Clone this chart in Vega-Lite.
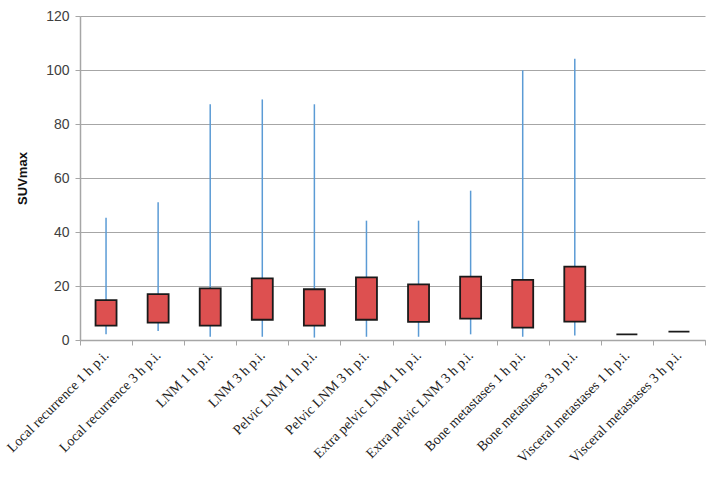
{
  "$schema": "https://vega.github.io/schema/vega-lite/v6.json",
  "autosize": {"type": "none"},
  "width": 625,
  "height": 324,
  "padding": {"left": 80, "top": 16, "right": 10, "bottom": 141},
  "background": "white",
  "data": {
    "values": [
      {"group": "Local recurrence 1 h p.i.", "min": 2.1, "q1": 5.3, "q3": 14.8, "max": 45.3},
      {"group": "Local recurrence 3 h p.i.", "min": 3.3, "q1": 6.4, "q3": 17.0, "max": 51.0},
      {"group": "LNM 1 h p.i.", "min": 1.2, "q1": 5.3, "q3": 19.1, "max": 87.3},
      {"group": "LNM 3 h p.i.", "min": 1.2, "q1": 7.5, "q3": 22.8, "max": 89.1},
      {"group": "Pelvic LNM 1 h p.i.", "min": 0.9, "q1": 5.3, "q3": 18.8, "max": 87.3},
      {"group": "Pelvic LNM 3 h p.i.", "min": 1.2, "q1": 7.5, "q3": 23.2, "max": 44.2},
      {"group": "Extra pelvic LNM 1 h p.i.", "min": 1.2, "q1": 6.7, "q3": 20.6, "max": 44.2},
      {"group": "Extra pelvic LNM 3 h p.i.", "min": 2.1, "q1": 7.9, "q3": 23.5, "max": 55.3},
      {"group": "Bone metastases 1 h p.i.", "min": 1.2, "q1": 4.6, "q3": 22.3, "max": 99.9},
      {"group": "Bone metastases 3 h p.i.", "min": 1.7, "q1": 6.8, "q3": 27.2, "max": 104.2},
      {"group": "Visceral metastases 1 h p.i.", "min": 2.1, "q1": 2.1, "q3": 2.1, "max": 2.1},
      {"group": "Visceral metastases 3 h p.i.", "min": 3.1, "q1": 3.1, "q3": 3.1, "max": 3.1}
    ]
  },
  "encoding": {
    "x": {
      "field": "group",
      "type": "nominal",
      "sort": null,
      "title": null,
      "scale": {"paddingInner": 0, "paddingOuter": 0},
      "axis": {
        "labelAngle": -45,
        "labelAlign": "right",
        "labelBaseline": "middle",
        "labelFont": "Liberation Serif",
        "labelFontSize": 14,
        "labelColor": "#222222",
        "labelPadding": 8,
        "labelLimit": 300,
        "tickBand": "extent",
        "tickColor": "#a6a6a6",
        "tickSize": 5,
        "domainColor": "#a6a6a6",
        "domainWidth": 1.5,
        "grid": false
      }
    }
  },
  "layer": [
    {
      "mark": {"type": "rule", "color": "#5b9bd5", "strokeWidth": 1.5},
      "encoding": {
        "y": {
          "field": "min",
          "type": "quantitative",
          "scale": {"domain": [0, 120], "nice": false},
          "title": "SUVmax",
          "axis": {
            "values": [0, 20, 40, 60, 80, 100, 120],
            "grid": true,
            "gridColor": "#a6a6a6",
            "gridWidth": 1.2,
            "domainColor": "#a6a6a6",
            "domainWidth": 1.5,
            "tickColor": "#a6a6a6",
            "tickSize": 5,
            "labelFont": "Liberation Sans",
            "labelFontSize": 14,
            "labelColor": "#404040",
            "labelPadding": 6,
            "titleFont": "Liberation Sans",
            "titleFontSize": 13,
            "titleFontWeight": "bold",
            "titleColor": "#111111",
            "titlePadding": 16
          }
        },
        "y2": {"field": "max"}
      }
    },
    {
      "mark": {"type": "bar", "width": 21, "color": "#dd5050", "stroke": "#1a1a1a", "strokeWidth": 1.8},
      "encoding": {
        "y": {"field": "q1", "type": "quantitative"},
        "y2": {"field": "q3"}
      }
    }
  ],
  "config": {"view": {"stroke": null}}
}
